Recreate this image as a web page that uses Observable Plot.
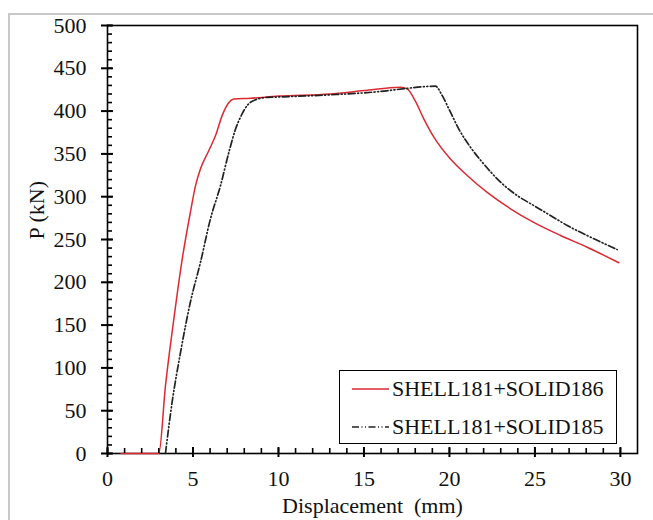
<!DOCTYPE html>
<html>
<head>
<meta charset="utf-8">
<script src="https://cdn.jsdelivr.net/npm/d3@7"></script>
<script src="https://cdn.jsdelivr.net/npm/@observablehq/plot@0.6"></script>
<style>
  html, body { margin: 0; padding: 0; background: #fff; }
  #wrap { position: relative; width: 653px; height: 520px; overflow: hidden; }
  #border { position: absolute; left: 8px; top: 13px; width: 700px; height: 600px;
            border-left: 2px solid #c8c8c8; border-top: 2px solid #c8c8c8; pointer-events: none; }
  #legend { position: absolute; left: 339px; top: 370px; width: 278px; height: 74px;
            box-sizing: border-box; border: 1.5px solid #000; background: #fff;
            font-family: 'Liberation Serif'; font-size: 22px; color: #111; }
  .row { position: absolute; left: 0; height: 28px; display: flex; align-items: center; white-space: nowrap; }
  .row svg { margin-left: 12px; margin-right: 3px; }
</style>
</head>
<body>
<div id="wrap">
  <div id="chart"></div>
  <div id="border"></div>
  <div id="legend"></div>
</div>
<script>
// Series names
const seriesNames = ["SHELL181+SOLID186", "SHELL181+SOLID185"];
const seriesColors = ["#dc2a33", "#222222"];

// SHELL181+SOLID186 (red, solid)
const solid186X = [0.8, 3.0, 3.39, 3.88, 4.37, 4.85, 5.15, 5.44, 5.93, 6.32, 6.71, 7.1, 7.39, 8.36, 10, 13, 15, 17.14, 17.53, 18.0, 18.5, 19.09, 20.06, 21.04, 22.21, 23.57, 24.93, 26.5, 28.06, 29.91];
const solid186P = [0, 0, 79, 157, 227, 282, 313, 332.6, 354, 371.5, 395, 410, 414, 415, 417.5, 420, 424, 428, 426, 412, 391, 369.5, 344, 324.8, 305, 285.9, 270, 254.7, 241, 222.8];

// SHELL181+SOLID185 (black, dash-dot-dot)
const solid185X = [3.39, 3.78, 4.27, 4.85, 5.44, 6.02, 6.61, 7.1, 7.49, 7.78, 8.17, 8.76, 9.34, 10, 13, 16, 17.5, 18.5, 19.18, 19.58, 20.06, 20.55, 21.23, 22.0, 22.99, 23.96, 24.93, 25.91, 26.89, 28.05, 29.81];
const solid185P = [0, 60, 118, 177, 223.5, 274, 313, 352, 379, 393, 406.5, 414, 416, 416.5, 419, 423, 426.5, 428.5, 429.1, 418, 398.7, 379, 357.8, 338.4, 317, 301.4, 289.7, 278, 266.4, 254.7, 238.3];

// Axis ticks
const xMajorTicks = [0, 5, 10, 15, 20, 25, 30];
const xMinorTicks = d3.range(0, 31, 1);
const yMajorTicks = [0, 50, 100, 150, 200, 250, 300, 350, 400, 450, 500];
const yMinorTicks = d3.range(0, 501, 10);

const xLabel = "Displacement\u00a0 (mm)";
const yLabel = "P (kN)";

const red = solid186X.map((x, i) => ({x, p: solid186P[i]}));
const black = solid185X.map((x, i) => ({x, p: solid185P[i]}));

const dash185 = "7,2.5,1,2.5,1,2.5";

const W = 653, H = 520, mL = 107, mR = 16, mT = 25, mB = 67;
const fw = W - mL - mR, fh = H - mT - mB;
const serif = "'Liberation Serif'";

const chart = Plot.plot({
  width: W,
  height: H,
  marginLeft: mL,
  marginRight: mR,
  marginTop: mT,
  marginBottom: mB,
  style: { fontFamily: serif, fontSize: "22px", background: "transparent", color: "#111" },
  x: { domain: [0, 31] },
  y: { domain: [0, 500] },
  marks: [
    Plot.frame({ stroke: "#000", strokeWidth: 1.6 }),
    Plot.line(red, { x: "x", y: "p", stroke: seriesColors[0], strokeWidth: 1.5, curve: "monotone-x" }),
    Plot.line(black, { x: "x", y: "p", stroke: seriesColors[1], strokeWidth: 1.7, strokeDasharray: dash185, curve: "monotone-x" }),
    // major / minor ticks (crossing and inward)
    Plot.tickX(xMajorTicks, { x: d => d, insetTop: fh - 6, insetBottom: -4, stroke: "#000", strokeWidth: 2 }),
    Plot.tickX(xMinorTicks, { x: d => d, insetTop: fh - 5, insetBottom: 0, stroke: "#000", strokeWidth: 1.6 }),
    Plot.tickY(yMajorTicks, { y: d => d, insetLeft: -6, insetRight: fw - 6, stroke: "#000", strokeWidth: 2 }),
    Plot.tickY(yMinorTicks, { y: d => d, insetLeft: 0, insetRight: fw - 5, stroke: "#000", strokeWidth: 1.6 }),
    // tick labels
    Plot.axisX(xMajorTicks, { tickSize: 0, tickPadding: 17, label: null, fill: "#111" }),
    Plot.axisY(yMajorTicks, { tickSize: 0, tickPadding: 21, label: null, fill: "#111" }),
    Plot.text([xLabel], { frameAnchor: "bottom", dy: 59, lineAnchor: "bottom", fontSize: 22, fill: "#111" }),
    Plot.text([yLabel], { frameAnchor: "left", dx: -64, rotate: -90, lineAnchor: "bottom", fontSize: 22, fill: "#111" })
  ]
});
document.getElementById("chart").appendChild(chart);

// Legend
const legend = document.getElementById("legend");
const rowTops = [4, 42];
seriesNames.forEach((name, i) => {
  const row = document.createElement("div");
  row.className = "row";
  row.style.top = rowTops[i] + "px";
  const dash = i === 0 ? "" : `stroke-dasharray="${dash185}"`;
  row.innerHTML = `<svg width="37" height="10"><line x1="0" y1="5" x2="37" y2="5" stroke="${seriesColors[i]}" stroke-width="1.5" ${dash}/></svg><span>${name}</span>`;
  legend.appendChild(row);
});
</script>
</body>
</html>
